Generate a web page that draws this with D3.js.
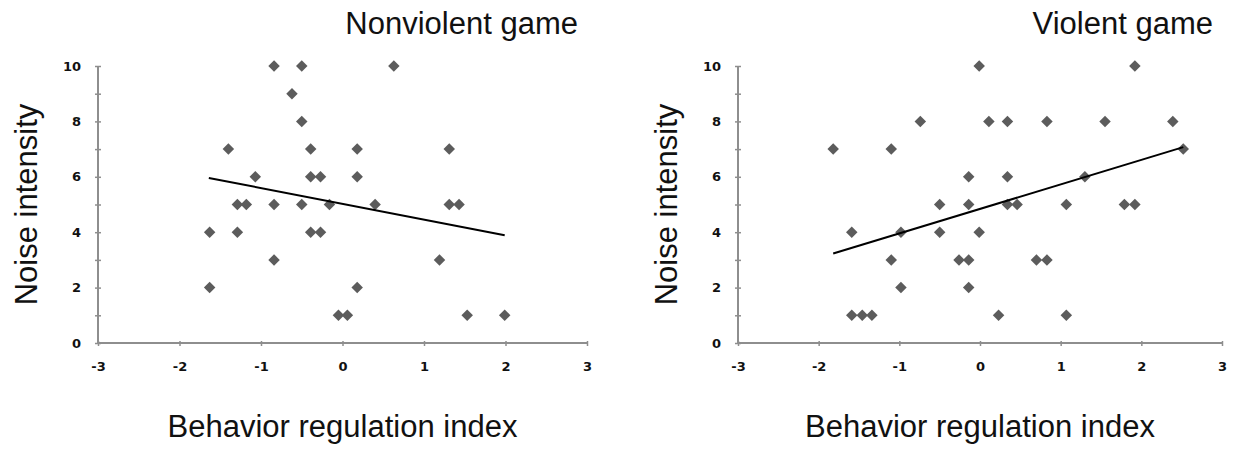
<!DOCTYPE html>
<html lang="en">
<head>
    <meta charset="UTF-8">
    <title>Noise intensity by behavior regulation index</title>
    <script src="https://d3js.org/d3.v7.min.js"></script>
    <style>
        body { margin: 0; background: #fff; }
        svg { display: block; }
        .big-label { font-family: "Liberation Sans", Arial, sans-serif; font-size: 31px; fill: #111; }
        .tick text { font-family: "DejaVu Sans", Verdana, sans-serif; font-weight: bold; font-size: 13px; fill: #111; }
    </style>
</head>
<body>
    <svg id="chart" width="1251" height="453"></svg>
    <script>
        // ---- data ----
        const panelTitles = ["Nonviolent game", "Violent game"];
        const xLabel = "Behavior regulation index";
        const yLabel = "Noise intensity";
        const xTicks = [-3, -2, -1, 0, 1, 2, 3];
        const yTicks = [0, 1, 2, 3, 4, 5, 6, 7, 8, 9, 10];

        const nonviolentX = [-0.84, -0.50, 0.63, -0.62, -0.50,
            -1.40, -0.39, 0.18, 1.31,
            -1.07, -0.39, -0.27, 0.18,
            -1.29, -1.18, -0.84, -0.50, -0.16, 0.40, 1.31, 1.43,
            -1.63, -1.29, -0.39, -0.27,
            -0.84, 1.19,
            -1.63, 0.18,
            -0.05, 0.06, 1.53, 1.99];
        const nonviolentY = [10, 10, 10, 9, 8,
            7, 7, 7, 7,
            6, 6, 6, 6,
            5, 5, 5, 5, 5, 5, 5, 5,
            4, 4, 4, 4,
            3, 3,
            2, 2,
            1, 1, 1, 1];
        const nonviolentTrend = [[-1.64, 5.96], [1.99, 3.89]];

        const violentX = [-0.01, 1.92,
            -0.74, 0.11, 0.34, 0.83, 1.55, 2.39,
            -1.82, -1.10, 2.52,
            -0.14, 0.34, 1.30,
            -0.50, -0.14, 0.34, 0.46, 1.07, 1.79, 1.92,
            -1.59, -0.98, -0.50, -0.01,
            -1.10, -0.26, -0.14, 0.70, 0.83,
            -0.98, -0.14,
            -1.59, -1.46, -1.34, 0.23, 1.07];
        const violentY = [10, 10,
            8, 8, 8, 8, 8, 8,
            7, 7, 7,
            6, 6, 6,
            5, 5, 5, 5, 5, 5, 5,
            4, 4, 4, 4,
            3, 3, 3, 3, 3,
            2, 2,
            1, 1, 1, 1, 1];
        const violentTrend = [[-1.82, 3.23], [2.52, 7.07]];

        const panels = [
            { title: panelTitles[0], xs: nonviolentX, ys: nonviolentY, trend: nonviolentTrend, left: 98, right: 587 },
            { title: panelTitles[1], xs: violentX, ys: violentY, trend: violentTrend, left: 738, right: 1222 }
        ];

        const svg = d3.select("#chart");
        const plotTop = 66, plotBottom = 343;
        const axisColor = "#8e8e8e";

        panels.forEach(p => {
            const x = d3.scaleLinear().domain([-3, 3]).range([p.left, p.right]);
            const y = d3.scaleLinear().domain([0, 10]).range([plotBottom, plotTop]);
            const g = svg.append("g");

            // y axis: ticks on every integer, labels on even ones
            const yAxis = g.append("g")
                .attr("transform", `translate(${p.left},0)`)
                .call(d3.axisLeft(y).tickValues(yTicks).tickSize(3).tickPadding(14)
                    .tickFormat(d => d % 2 === 0 ? String(d) : ""));
            yAxis.select(".domain").attr("stroke", axisColor).attr("stroke-width", 2)
                .attr("d", `M0,${plotBottom}V${plotTop}`);
            yAxis.selectAll(".tick line").attr("stroke", axisColor).attr("stroke-width", 1.5)
                .attr("x1", -3).attr("x2", 3);

            // x axis (plain hyphen for negatives, as in the source)
            const xAxis = g.append("g")
                .attr("transform", `translate(0,${plotBottom})`)
                .call(d3.axisBottom(x).tickValues(xTicks).tickSize(3).tickPadding(16)
                    .tickFormat(d => String(d)));
            xAxis.select(".domain").attr("stroke", axisColor).attr("stroke-width", 2)
                .attr("d", `M${p.left},0H${p.right}`);
            xAxis.selectAll(".tick line").attr("stroke", axisColor).attr("stroke-width", 1.5)
                .attr("y1", -2).attr("y2", 3);

            // points
            g.append("g").selectAll("path")
                .data(p.xs.map((v, i) => [v, p.ys[i]]))
                .join("path")
                .attr("d", d3.symbol(d3.symbolSquare, 66))
                .attr("transform", d => `translate(${x(d[0])},${y(d[1])}) rotate(45)`)
                .attr("fill", "#5c5c5c");

            // trend line
            g.append("path")
                .datum(p.trend)
                .attr("fill", "none")
                .attr("stroke", "#000")
                .attr("stroke-width", 2)
                .attr("d", d3.line().x(d => x(d[0])).y(d => y(d[1])));

            // titles and labels
            g.append("text").attr("class", "big-label")
                .attr("x", p.right - 9).attr("y", 34)
                .attr("text-anchor", "end")
                .text(p.title);
            g.append("text").attr("class", "big-label")
                .attr("x", x(0)).attr("y", 437)
                .attr("text-anchor", "middle")
                .text(xLabel);
            g.append("text").attr("class", "big-label")
                .attr("transform", `translate(${p.left - 61},${(plotTop + plotBottom) / 2}) rotate(-90)`)
                .attr("text-anchor", "middle")
                .text(yLabel);
        });
    </script>
</body>
</html>
